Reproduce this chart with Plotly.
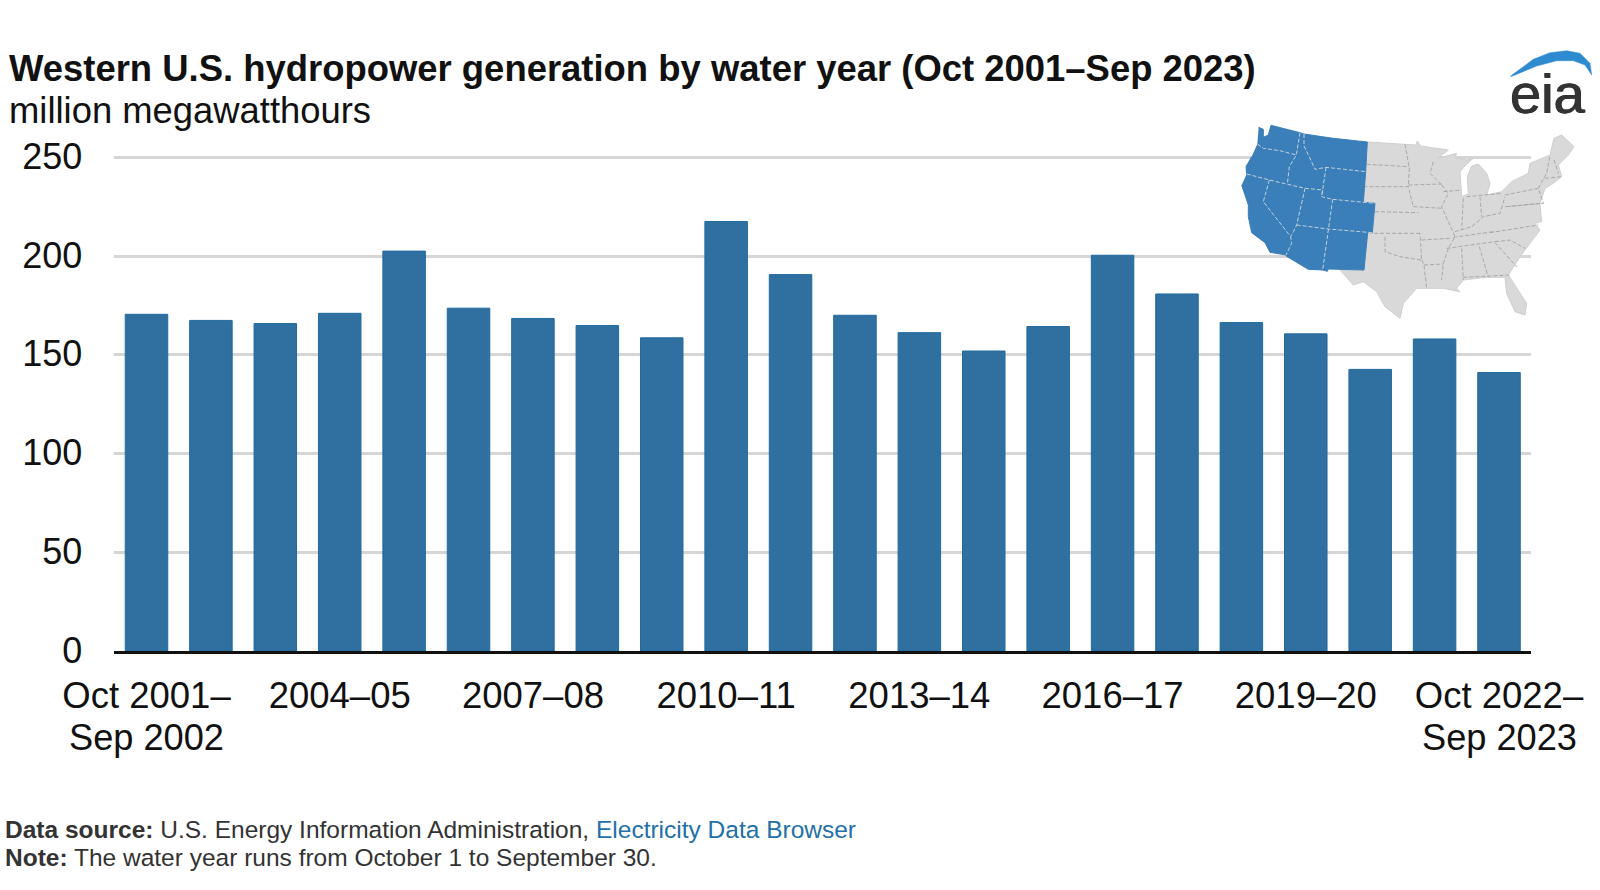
import plotly.graph_objects as go
import numpy as np

water_years = ["Oct 2001–Sep 2002", "2002–03", "2003–04", "2004–05", "2005–06", "2006–07", "2007–08", "2008–09",
               "2009–10", "2010–11", "2011–12", "2012–13", "2013–14", "2014–15", "2015–16", "2016–17",
               "2017–18", "2018–19", "2019–20", "2020–21", "2021–22", "Oct 2022–Sep 2023"]
generation = [170.5, 167.4, 165.8, 171.0, 202.5, 173.6, 168.4, 164.8, 158.6, 217.5, 190.6,
              170.0, 161.2, 151.9, 164.3, 200.4, 180.8, 166.3, 160.6, 142.6, 158.0, 141.0]
tick_categories = ["Oct 2001–Sep 2002", "2004–05", "2007–08", "2010–11", "2013–14", "2016–17", "2019–20", "Oct 2022–Sep 2023"]
tick_labels = ["Oct 2001–", "2004–05", "2007–08", "2010–11", "2013–14", "2016–17", "2019–20", "Oct 2022–"]
y_ticks = [0, 50, 100, 150, 200, 250]

FONT = "Liberation Sans"
W, H = 1600, 890

# Inset locator map outlines (crop units: 3x, origin at 1200,40)
west_states = {
    "WA": [(176,262),(190,268),(190,292),(205,285),(213,256),(300,278),(289,345),(240,332),(190,325),(172,312)],
    "OR": [(172,312),(190,325),(240,332),(289,345),(268,380),(262,433),(208,420),(140,402),(138,380),(155,350)],
    "CA": [(140,402),(208,420),(190,485),(272,590),(275,610),(258,645),(210,637),(195,608),(155,578),(145,530),(145,495),(125,435)],
    "NV": [(208,420),(262,433),(315,445),(290,555),(280,575),(272,590),(190,485)],
    "ID": [(300,278),(312,282),(312,318),(330,355),(345,388),(378,382),(368,450),(315,445),(262,433),(268,380),(289,345)],
    "MT": [(312,282),(400,295),(502,306),(497,395),(378,382),(345,388),(330,355),(312,318)],
    "WY": [(378,382),(497,395),(490,487),(398,478),(365,470)],
    "UT": [(315,445),(368,450),(365,470),(398,478),(385,567),(290,555)],
    "CO": [(398,478),(490,487),(525,490),(517,578),(385,567)],
    "AZ": [(290,555),(385,567),(368,690),(325,688),(258,648),(275,610),(272,590),(280,575)],
    "NM": [(385,567),(517,578),(503,578),(492,690),(385,687),(382,694),(368,690)],
}
west_lines = [
    [(300,278),(289,345),(268,380),(262,433)], [(312,282),(312,318),(330,355),(345,388),(378,382),(497,395)],
    [(172,312),(190,325),(240,332),(289,345)], [(140,402),(208,420),(315,445),(368,450),(365,470),(398,478),(525,490)],
    [(208,420),(190,485),(272,590),(275,610),(258,645)], [(315,445),(290,555),(280,575),(272,590)],
    [(378,382),(365,470)], [(290,555),(385,567),(517,578)], [(398,478),(385,567),(368,690)],
]
east_outline = [(502,306),(648,315),(652,303),(662,318),(745,330),(712,355),(770,340),(765,352),(800,360),(820,355),
                (800,372),(780,395),(785,470),(805,462),(802,410),(815,378),(835,372),(860,400),(870,430),(860,465),
                (905,455),(935,425),(985,400),(990,370),(1050,345),(1062,295),(1085,285),(1122,320),(1105,345),(1075,375),
                (1085,410),(1060,430),(1035,445),(1020,490),(1025,545),(1005,550),(1020,570),(990,610),(960,650),(925,705),
                (980,790),(975,825),(945,815),(920,760),(915,712),(860,712),(790,720),(770,745),(780,755),(730,745),
                (680,745),(650,745),(610,790),(600,835),(555,800),(530,755),(490,725),(460,735),(420,690),(492,690),
                (503,578),(517,578),(525,490),(490,487),(497,395)]
east_lines = [
    [(500,373),(628,380)], [(490,440),(625,440),(640,500)], [(615,313),(628,385),(625,440)], [(525,515),(655,518)],
    [(522,580),(665,580)], [(555,590),(555,635),(600,650),(665,660),(660,580)], [(665,660),(672,675),(680,745)],
    [(672,675),(730,672)], [(640,500),(730,505)], [(625,435),(725,432)], [(700,365),(690,400),(725,435)],
    [(730,455),(785,450)], [(725,435),(745,460),(725,500),(755,570),(765,590),(745,625),(730,672),(725,720)],
    [(665,600),(750,595)], [(790,475),(785,570)], [(840,470),(845,530)], [(800,470),(905,460)],
    [(760,592),(880,575)], [(740,625),(885,605)], [(870,578),(1015,555)], [(885,605),(930,600),(975,625)],
    [(785,625),(790,720)], [(838,620),(865,712)], [(790,712),(930,705)], [(885,608),(950,680)],
    [(765,575),(815,560),(850,530),(900,520),(915,470)], [(915,465),(1015,445),(1030,490),(915,500)],
    [(1015,445),(1040,400),(1050,345)], [(1062,360),(1075,400)], [(1035,415),(1085,410)], [(920,500),(1020,490)],
]
# Logo arc, in page pixels
logo_arc = [(1510.7,76),(1533.3,59.3),(1550,52.7),(1566.7,50.7),(1580,53.3),(1590,63.3),(1591.7,75),
            (1585,65),(1573.3,60.7),(1556.7,60.7),(1536.7,66),(1510.7,76.7)]


def crop_xy(points):
    return [1200 + p[0] / 3 for p in points], [40 + p[1] / 3 for p in points]


def lines_xy(segments):
    xs, ys = [], []
    for seg in segments:
        x, y = crop_xy(seg)
        xs += x + [None]
        ys += y + [None]
    return xs, ys


fig = go.Figure()
fig.add_trace(go.Bar(x=water_years, y=generation, width=0.66,
                     marker=dict(color="#2f70a0", line=dict(color="#1f6ba0", width=1)),
                     hoverinfo="x+y", showlegend=False))

x, y = crop_xy(east_outline)
fig.add_trace(go.Scatter(x=x, y=y, xaxis="x2", yaxis="y2", mode="lines", fill="toself", fillcolor="#d9d9d9",
                         line=dict(color="#cfcfcf", width=1), hoverinfo="skip", showlegend=False))
x, y = lines_xy(east_lines)
fig.add_trace(go.Scatter(x=x, y=y, xaxis="x2", yaxis="y2", mode="lines",
                         line=dict(color="#a8a8a8", width=1, dash="4px,2px"), hoverinfo="skip", showlegend=False))
for name, pts in west_states.items():
    x, y = crop_xy(pts)
    fig.add_trace(go.Scatter(x=x, y=y, xaxis="x2", yaxis="y2", mode="lines", fill="toself", fillcolor="#3a7fb9",
                             line=dict(color="#3a7fb9", width=1), name=name, hoverinfo="name", showlegend=False))
x, y = lines_xy(west_lines)
fig.add_trace(go.Scatter(x=x, y=y, xaxis="x2", yaxis="y2", mode="lines",
                         line=dict(color="#c3cfd8", width=1, dash="4px,2px"), hoverinfo="skip", showlegend=False))
fig.add_trace(go.Scatter(x=[p[0] for p in logo_arc], y=[p[1] for p in logo_arc], xaxis="x2", yaxis="y2", mode="lines",
                         fill="toself", fillcolor="#2e8bd0", line=dict(color="#2e8bd0", width=0.5),
                         hoverinfo="skip", showlegend=False))


def text(s, px, py, size, color="#111111", anchor="left", xref="paper", shadow=None):
    """Place a text item with its vertical middle at page pixel py."""
    f = dict(family=FONT, size=size, color=color)
    if shadow:
        f["shadow"] = shadow
    fig.add_annotation(text=s, x=px / W if xref == "paper" else px, y=1 - py / H, xref=xref, yref="paper",
                       xanchor=anchor, yanchor="middle", showarrow=False, borderpad=0, borderwidth=0, font=f)


text("<b>Western U.S. hydropower generation by water year (Oct 2001–Sep 2023)</b>", 9, 68.5, 36.45)
text("million megawatthours", 9, 110.5, 36.4)
text("Sep 2002", water_years[0], 737.5, 36.2, anchor="center", xref="x")
text("Sep 2023", water_years[-1], 737.5, 36.2, anchor="center", xref="x")
text("eia", 1547.5, 94, 56, color="#333333", anchor="center", shadow="0.6px 0 0 #333333, -0.6px 0 0 #333333")
text("<b>Data source:</b> U.S. Energy Information Administration, <span style='color:#2470a8'>Electricity Data Browser</span>",
     5, 829.5, 24.5, color="#333333")
text("<b>Note:</b> The water year runs from October 1 to September 30.", 5, 857.5, 24.5, color="#333333")

fig.update_layout(
    width=W, height=H, margin=dict(l=0, r=0, t=0, b=0, pad=0), autosize=False,
    paper_bgcolor="white", plot_bgcolor="rgba(0,0,0,0)", showlegend=False,
    font=dict(family=FONT, color="#111111"),
    xaxis=dict(domain=[114.3 / W, 1531.2 / W], type="category", categoryorder="array", categoryarray=water_years,
               range=[-0.5, 21.5], tickmode="array", tickvals=tick_categories, ticktext=tick_labels, tickangle=0,
               showgrid=False, zeroline=False, showline=True, linecolor="#111111", linewidth=2.5, ticks="",
               tickfont=dict(family=FONT, size=36.5, color="#111111"), ticklabelstandoff=10, anchor="y", automargin=False),
    yaxis=dict(domain=[1 - 651 / H, 1 - 153.35 / H], range=[0, 252], tickmode="array", tickvals=y_ticks,
               showgrid=True, gridcolor="#d6d6d6", gridwidth=2.5, zeroline=False, showline=False, ticks="",
               tickfont=dict(family=FONT, size=36, color="#111111"), ticklabelstandoff=31, ticklabelshift=-1,
               anchor="x", automargin=False),
    xaxis2=dict(domain=[0, 1], range=[0, W], visible=False, anchor="y2", fixedrange=True),
    yaxis2=dict(domain=[0, 1], range=[H, 0], visible=False, anchor="x2", fixedrange=True),
)

fig.write_html("out.html", config=dict(displayModeBar=False),
               post_script="document.body.style.margin='0';document.body.style.overflow='hidden';")
